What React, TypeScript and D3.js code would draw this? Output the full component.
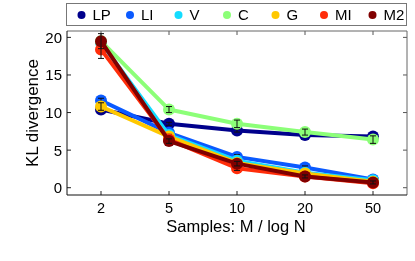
import { useRef, useEffect } from 'react';
import * as d3 from 'd3';

// x categories: samples M / log N
const samples = ['2', '5', '10', '20', '50'];
const seriesNames = ['LP', 'LI', 'V', 'C', 'G', 'MI', 'M2'];
const seriesColors = ['#00008c', '#0a5aff', '#14dcff', '#8cff78', '#ffc800', '#ff2d0a', '#800000'];

// KL divergence per series
const valLP = [10.4, 8.5, 7.6, 7.0, 6.8];
const valLI = [11.6, 7.3, 4.1, 2.7, 1.1];
const valV = [19.3, 7.0, 3.6, 2.0, 1.0];
const valC = [19.5, 10.4, 8.5, 7.4, 6.4];
const valG = [10.8, 6.8, 3.3, 1.9, 0.8];
const valMI = [18.4, 6.4, 2.6, 1.5, 0.6];
const valM2 = [19.5, 6.2, 3.2, 1.5, 0.7];

// error bar half-widths
const errLP = [0.3, 0.2, 0.2, 0.2, 0.2];
const errLI = [0.3, 0.2, 0.3, 0.2, 0.2];
const errV = [0.2, 0.2, 0.2, 0.2, 0.2];
const errC = [0.4, 0.4, 0.5, 0.4, 0.5];
const errG = [0.5, 0.3, 0.3, 0.2, 0.2];
const errMI = [1.2, 0.4, 0.3, 0.2, 0.2];
const errM2 = [1.0, 0.3, 0.3, 0.2, 0.2];

const yTicks = [0, 5, 10, 15, 20];

const allVals = [valLP, valLI, valV, valC, valG, valMI, valM2];
const allErrs = [errLP, errLI, errV, errC, errG, errMI, errM2];

const App = () => {
    const ref = useRef<SVGSVGElement>(null);

    useEffect(() => {
        const width = 415;
        const height = 261;
        const box = { left: 67, right: 407, top: 31, bottom: 195 };
        const font = 'Liberation Sans, Arial, Helvetica, sans-serif';

        const svg = d3.select(ref.current);
        svg.selectAll('*').remove();
        svg.attr('width', width).attr('height', height).attr('viewBox', `0 0 ${width} ${height}`);

        const x: any = d3.scalePoint()
            .domain(samples)
            .range([box.left, box.right])
            .padding(0.5);
        const y = d3.scaleLinear()
            .domain([-0.97, 20.85])
            .range([box.bottom, box.top]);

        const data = seriesNames.map((name, i) => ({
            name,
            color: seriesColors[i],
            pts: samples.map((s, j) => ({ s, v: allVals[i][j], e: allErrs[i][j] }))
        }));

        // axes box
        svg.append('rect')
            .attr('x', box.left).attr('y', box.top)
            .attr('width', box.right - box.left).attr('height', box.bottom - box.top)
            .attr('fill', 'white').attr('stroke', 'none');

        // ticks point inward, on all four sides
        const tickLen = 4;
        const g = svg.append('g');
        samples.forEach((s) => {
            g.append('line').attr('x1', x(s)).attr('x2', x(s))
                .attr('y1', box.bottom).attr('y2', box.bottom - tickLen)
                .attr('stroke', '#222').attr('stroke-width', 1);
            g.append('line').attr('x1', x(s)).attr('x2', x(s))
                .attr('y1', box.top).attr('y2', box.top + tickLen)
                .attr('stroke', '#555').attr('stroke-width', 1);
            g.append('text').attr('x', x(s)).attr('y', 213)
                .attr('text-anchor', 'middle')
                .style('font-family', font).style('font-size', '14.5px')
                .text(s);
        });
        yTicks.forEach((t) => {
            g.append('line').attr('x1', box.left).attr('x2', box.left + tickLen)
                .attr('y1', y(t)).attr('y2', y(t))
                .attr('stroke', '#222').attr('stroke-width', 1);
            g.append('line').attr('x1', box.right).attr('x2', box.right - tickLen)
                .attr('y1', y(t)).attr('y2', y(t))
                .attr('stroke', '#555').attr('stroke-width', 1);
            g.append('text').attr('x', 62).attr('y', y(t)).attr('dy', '0.36em')
                .attr('text-anchor', 'end')
                .style('font-family', font).style('font-size', '15px')
                .text(t);
        });

        // lines, markers, error bars per series
        const line = d3.line<any>()
            .x((d) => x(d.s))
            .y((d) => y(d.v));

        data.forEach((ser) => {
            const sg = svg.append('g');
            sg.append('path')
                .attr('d', line(ser.pts))
                .attr('fill', 'none')
                .attr('stroke', ser.color)
                .attr('stroke-width', 4)
                .attr('stroke-linejoin', 'round');
            sg.selectAll('circle').data(ser.pts).enter().append('circle')
                .attr('cx', (d: any) => x(d.s))
                .attr('cy', (d: any) => y(d.v))
                .attr('r', 6)
                .attr('fill', ser.color);
            const eb = sg.selectAll('g.eb').data(ser.pts).enter().append('g');
            eb.append('line')
                .attr('x1', (d: any) => x(d.s)).attr('x2', (d: any) => x(d.s))
                .attr('y1', (d: any) => y(d.v - d.e)).attr('y2', (d: any) => y(d.v + d.e))
                .attr('stroke', '#111').attr('stroke-width', 1);
            [-1, 1].forEach((sign) => {
                eb.append('line')
                    .attr('x1', (d: any) => x(d.s) - 3).attr('x2', (d: any) => x(d.s) + 3)
                    .attr('y1', (d: any) => y(d.v + sign * d.e)).attr('y2', (d: any) => y(d.v + sign * d.e))
                    .attr('stroke', '#111').attr('stroke-width', 1);
            });
        });

        // frame on top
        svg.append('path')
            .attr('d', `M${box.left},${box.top}H${box.right}V${box.bottom}`)
            .attr('fill', 'none').attr('stroke', '#666').attr('stroke-width', 1);
        svg.append('path')
            .attr('d', `M${box.left},${box.top}V${box.bottom}H${box.right}`)
            .attr('fill', 'none').attr('stroke', '#111').attr('stroke-width', 1);

        // axis labels
        svg.append('text')
            .attr('transform', `translate(38, ${(box.top + box.bottom) / 2}) rotate(-90)`)
            .attr('text-anchor', 'middle')
            .style('font-family', font).style('font-size', '17px')
            .text('KL divergence');
        svg.append('text')
            .attr('x', (box.left + box.right) / 2 - 1).attr('y', 232)
            .attr('text-anchor', 'middle')
            .style('font-family', font).style('font-size', '16.5px')
            .text('Samples: M / log N');

        // legend
        svg.append('rect')
            .attr('x', 66.5).attr('y', 3.5).attr('width', 340).attr('height', 22)
            .attr('fill', 'white').attr('stroke', '#777').attr('stroke-width', 1);
        const legStep = 48.5;
        data.forEach((ser, i) => {
            const cx = 81.5 + i * legStep;
            svg.append('circle').attr('cx', cx).attr('cy', 15).attr('r', 4).attr('fill', ser.color);
            svg.append('text').attr('x', cx + 11).attr('y', 15).attr('dy', '0.36em')
                .style('font-family', font).style('font-size', '15px')
                .text(ser.name);
        });
    }, []);

    return (
        <div style={{ position: 'fixed', left: 0, top: 0 }}>
            <svg ref={ref}></svg>
        </div>
    );
};

export default App;
